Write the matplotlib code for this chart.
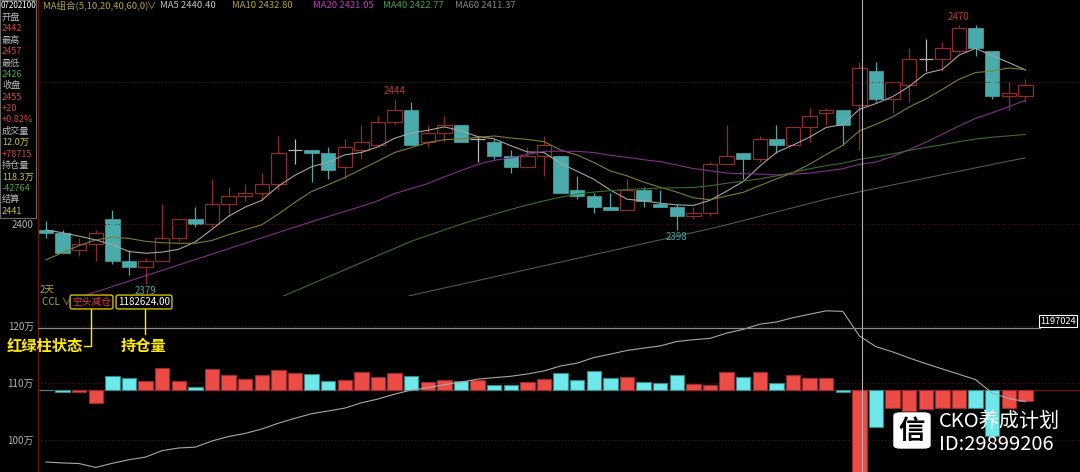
import matplotlib
matplotlib.use("Agg")
import matplotlib.pyplot as plt
import matplotlib.transforms as mtrans
from matplotlib.lines import Line2D
from matplotlib.patches import Rectangle, FancyBboxPatch
import numpy as np
import pandas as pd

plt.rcParams['font.family'] = ['Noto Sans CJK SC', 'DejaVu Sans']

# daily candles, left to right
opens = [2398, 2397, 2391, 2393, 2402, 2387, 2385, 2387, 2395, 2402,
         2400, 2407, 2410, 2411, 2414, 2426, 2426, 2425, 2420, 2426,
         2428, 2436, 2440, 2429, 2432, 2435, 2430, 2429, 2424, 2420,
         2424, 2424, 2412, 2410, 2406, 2405, 2412, 2407, 2406, 2403,
         2404, 2421, 2425, 2423, 2430, 2428, 2434, 2439, 2440, 2442,
         2454, 2444, 2449, 2458, 2458, 2461, 2469, 2461, 2445, 2445]
highs = [2401, 2398, 2395, 2398, 2405, 2391, 2388, 2407, 2402, 2406,
         2416, 2413, 2414, 2418, 2431, 2430, 2426, 2427, 2430, 2435,
         2438, 2444, 2443, 2435, 2438, 2435, 2431, 2430, 2426, 2427,
         2431, 2424, 2417, 2411, 2411, 2416, 2413, 2412, 2407, 2406,
         2422, 2435, 2425, 2431, 2435, 2434, 2441, 2441, 2440, 2457,
         2457, 2450, 2462, 2465, 2464, 2470, 2470, 2461, 2450, 2451]
lows = [2395, 2390, 2389, 2387, 2386, 2382, 2379, 2387, 2394, 2399,
        2399, 2403, 2408, 2408, 2412, 2421, 2415, 2416, 2416, 2423,
        2427, 2435, 2428, 2427, 2429, 2429, 2422, 2423, 2418, 2420,
        2417, 2411, 2409, 2404, 2405, 2405, 2406, 2406, 2398, 2402,
        2403, 2421, 2416, 2422, 2425, 2428, 2429, 2435, 2428, 2426,
        2443, 2439, 2443, 2454, 2454, 2460, 2459, 2444, 2440, 2443]
closes = [2397, 2390, 2393, 2397, 2387, 2385, 2387, 2395, 2402, 2400,
          2407, 2410, 2411, 2414, 2425, 2426, 2425, 2419, 2427, 2429,
          2436, 2440, 2428, 2432, 2435, 2429, 2430, 2424, 2420, 2424,
          2428, 2411, 2410, 2406, 2405, 2412, 2408, 2406, 2403, 2404,
          2421, 2424, 2423, 2430, 2428, 2434, 2438, 2440, 2435, 2455,
          2444, 2450, 2458, 2458, 2462, 2469, 2462, 2445, 2446, 2449]

# open interest (万) and its daily change (contracts)
oi_wan = [96.14, 95.98, 95.87, 95.19, 95.92, 96.55, 97.01, 98.14, 98.60, 98.75,
          99.83, 100.61, 101.16, 101.93, 102.95, 103.81, 104.61, 105.09, 105.60, 106.52,
          107.19, 108.04, 108.76, 109.18, 109.70, 110.17, 110.68, 110.94, 111.18, 111.58,
          112.12, 112.98, 113.49, 114.46, 115.06, 115.71, 116.12, 116.50, 117.28, 117.59,
          117.83, 118.75, 119.40, 120.32, 120.70, 121.46, 122.06, 122.66, 122.57, 118.26,
          116.37, 115.46, 114.39, 113.40, 112.46, 111.53, 110.59, 108.23, 107.29, 106.73]
oi_chg = [0, -1180, -1180, -6810, 7320, 6300, 4610, 11260, 4610, 1540,
          10750, 7830, 5480, 7680, 10240, 8550, 8040, 4760, 5120, 9220,
          6660, 8550, 7170, 4250, 5120, 4760, 5120, 2560, 2410, 3940,
          5480, 8550, 5120, 9730, 5990, 6500, 4100, 3740, 7830, 3070,
          2410, 9220, 6500, 9220, 3740, 7680, 5990, 5990, -870, -42764,
          -18940, -9060, -10750, -9880, -9370, -9370, -9370, -23550, -9370, -5630]

# MA values whose window reaches back before the first candle
ma5_head = [2398.0, 2397.0, 2395.8, 2394.5]
ma10_head = [2387.5, 2390.0, 2392.5, 2394.5, 2395.5, 2395.0, 2394.0, 2393.5, 2393.3]
ma20_head = [2370.5, 2372.4, 2374.3, 2376.2, 2378.1, 2380.0, 2381.9, 2383.8, 2385.7, 2387.6,
             2389.5, 2391.4, 2393.3, 2395.2, 2397.1, 2399.0, 2400.9, 2402.7, 2404.5]
ma40_head = [2345.0, 2347.0, 2349.0, 2351.0, 2353.0, 2355.0, 2357.0, 2359.0, 2361.0, 2363.0,
             2365.0, 2367.5, 2370.0, 2372.5, 2374.0, 2376.5, 2379.0, 2381.5, 2384.0, 2386.5,
             2389.0, 2391.5, 2394.0, 2396.0, 2398.0, 2400.0, 2401.8, 2403.5, 2405.2, 2406.8,
             2408.2, 2409.5, 2410.6, 2411.3, 2411.8, 2412.2, 2412.5, 2412.7, 2412.8]
ma60 = [2346.0, 2347.3, 2348.6, 2349.9, 2351.2, 2352.5, 2353.8, 2355.1, 2356.4, 2357.7,
        2359.0, 2360.3, 2361.6, 2362.9, 2364.2, 2365.5, 2366.8, 2368.1, 2369.4, 2370.7,
        2372.0, 2373.4, 2375.0, 2376.3, 2377.6, 2378.9, 2380.2, 2381.5, 2382.8, 2384.1,
        2385.4, 2386.7, 2388.0, 2389.3, 2390.6, 2391.9, 2393.2, 2394.5, 2395.8, 2397.1,
        2398.4, 2399.8, 2401.3, 2402.8, 2404.3, 2405.8, 2407.3, 2408.8, 2410.1, 2411.37,
        2412.6, 2413.8, 2415.0, 2416.2, 2417.4, 2418.6, 2419.8, 2421.0, 2422.2, 2423.3]

high_marks = [21, 55]
low_marks = [6, 38]
cursor_x = 49.15
cursor_oi = 119.7024

info_rows = [("开盘", "lab"), ("2442", "up"), ("最高", "lab"), ("2457", "up"),
             ("最低", "lab"), ("2426", "dn"), ("收盘", "lab"), ("2455", "up"),
             ("+20", "up"), ("+0.82%", "up"), ("成交量", "lab"), ("12.0万", "ol"),
             ("+78715", "up"), ("持仓量", "lab"), ("118.3万", "ol"), ("-42764", "dn"),
             ("结算", "lab"), ("2441", "ol")]
legend_items = [("MA组合(5,10,20,40,60,0)", 43, '#b4a63a'),
                ("∨", 147, '#b4a63a'),
                ("MA5 2440.40", 160, '#c4c4c4'),
                ("MA10 2432.80", 232, '#b4a63a'),
                ("MA20 2421.05", 313, '#c23cc2'),
                ("MA40 2422.77", 383, '#3ca83c'),
                ("MA60 2411.37", 455, '#858585')]

W, H = 1080, 472
SPLIT = 296
BG = '#000000'
DARKRED = '#6e1414'
GRID = '#5e1212'
RED_K = '#902c2c'
TEAL_K = '#4aabab'
DOJI = '#b4b4b4'
colmap = {"lab": '#b8b8b8', "up": '#d24444', "dn": '#3cb03c', "ol": '#c8c03a'}


def fx(x):
    return x / W


def fy(y):
    return 1 - y / H


fig = plt.figure(figsize=(W / 100, H / 100), dpi=100, facecolor=BG)
ax1 = fig.add_axes([fx(38), fy(SPLIT), 1 - fx(38), SPLIT / H])
ax_bar = fig.add_axes([fx(38), 0, 1 - fx(38), (H - SPLIT) / H])
ax_oi = ax_bar.twinx()

o = np.array(opens, float)
h = np.array(highs, float)
l = np.array(lows, float)
c = np.array(closes, float)
x = np.arange(len(c))
w = 0.87
up = c > o
dn = c < o
fl = c == o

# candles
ax1.vlines(x[up], c[up], h[up], color=RED_K, lw=0.9)
ax1.vlines(x[up], l[up], o[up], color=RED_K, lw=0.9)
ax1.bar(x[up], (c - o)[up], bottom=o[up], width=w, facecolor='none',
        edgecolor=RED_K, linewidth=0.9)
ax1.vlines(x[dn], l[dn], h[dn], color=TEAL_K, lw=0.9)
ax1.bar(x[dn], (o - c)[dn], bottom=c[dn], width=w, color=TEAL_K,
        edgecolor=TEAL_K, linewidth=0.5)
ax1.vlines(x[fl], l[fl], h[fl], color=DOJI, lw=0.9)
ax1.hlines(o[fl], x[fl] - w / 2, x[fl] + w / 2, color=DOJI, lw=0.9)

# moving averages
cl = pd.Series(c)


def ma_line(n, head):
    m = cl.rolling(n).mean().to_numpy()
    m[:len(head)] = head
    return m


ax1.plot(x, ma_line(5, ma5_head), color='#a4a4a4', lw=0.8, zorder=3)
ax1.plot(x, ma_line(10, ma10_head), color='#807c30', lw=0.8, zorder=3)
ax1.plot(x, ma_line(20, ma20_head), color='#82308a', lw=0.8, zorder=3)
ax1.plot(x, ma_line(40, ma40_head), color='#3c6e2a', lw=0.8, zorder=3)
ax1.plot(x, ma60, color='#555555', lw=0.8, zorder=3)

for i in high_marks:
    ax1.annotate(f"{highs[i]}", (x[i], h[i]), xytext=(0, 2), textcoords='offset points',
                 ha='center', va='bottom', color='#b83a3a', fontsize=7)
for i in low_marks:
    ax1.annotate(f"{lows[i]}", (x[i], l[i]), xytext=(0, -1.5), textcoords='offset points',
                 ha='center', va='top', color='#45a8a8', fontsize=7)

ax1.set_xlim(-0.48, 62.29)
ax1.set_ylim(2374.78, 2478.78)
# the 2450 label sits under the info box, so only the grid line shows
ax1.set_yticks([2400, 2450], labels=['2400', ''])
ax1.yaxis.grid(True, color=GRID, lw=0.8, ls=(0, (1, 2)))
ax1.axvline(cursor_x, color='#b0b0b0', lw=0.8, zorder=5)

# lower panel: open interest change bars + open interest line
bar_red = c >= o
ax_bar.axhline(0, color=DARKRED, lw=1, zorder=0.6)
ax_bar.bar(x, oi_chg, width=w,
           color=np.where(bar_red, '#ec4c46', '#6ee8ea'),
           edgecolor=np.where(bar_red, '#9c2a2a', '#2f8a8a'), linewidth=0.8, zorder=2)
blend = mtrans.blended_transform_factory(ax_bar.transAxes, ax_oi.transData)
for v in [100, 110, 120]:
    ax_bar.add_line(Line2D([0, 1], [v, v], transform=blend, color=GRID, lw=0.8,
                           ls=(0, (1, 2)), zorder=0.5))
ax_bar.set_xlim(-0.48, 62.29)
ax_bar.set_ylim(-41984, 48128)
ax_bar.set_yticks([])

ax_oi.plot(x, oi_wan, color='#a8a8a8', lw=0.8)
ax_oi.set_ylim(94.39, 125.26)
ax_oi.yaxis.tick_left()
ax_oi.set_yticks([100, 110, 120], labels=['100万', '110万', '120万'])
ax_oi.axvline(cursor_x, color='#b0b0b0', lw=0.8)
ax_oi.axhline(cursor_oi, xmax=0.9616, color='#8c8c8c', lw=0.9)

for ax in (ax1, ax_bar, ax_oi):
    ax.set_facecolor(BG)
    for s in ax.spines.values():
        s.set_visible(False)
    ax.set_xticks([])
    ax.tick_params(axis='y', length=0, pad=3, colors='#b0b0b0', labelsize=7)
ax_oi.patch.set_visible(False)
for ax in (ax1, ax_bar):
    ax.spines['left'].set_visible(True)
    ax.spines['left'].set_color(DARKRED)
ax1.spines['bottom'].set_visible(True)
ax1.spines['bottom'].set_color(DARKRED)

# info box at top-left
fig.add_artist(Rectangle((0, fy(218)), fx(36), 218 / H, transform=fig.transFigure,
                         facecolor=BG, edgecolor='#6a6a6a', lw=0.8, zorder=2))
fig.text(fx(1), fy(6), "07202100", color='white', fontsize=5.8, va='center')
for k, (txt, kind) in enumerate(info_rows):
    fig.text(fx(2), fy(17.4 + 11.4 * k), txt, color=colmap[kind], fontsize=6.6, va='center')

for txt, px, col in legend_items:
    fig.text(fx(px), fy(6), txt, color=col, fontsize=6.8, va='center')

fig.text(fx(40), fy(290), "2天", color='#b4a63a', fontsize=7, va='center')

# lower panel header
fig.text(fx(42), fy(302), "CCL ∨", color='#b4a63a', fontsize=7, va='center')
fig.text(fx(91.5), fy(302), "空头减仓", color='#e04040', fontsize=7, va='center', ha='center',
         bbox=dict(boxstyle='round,pad=0.2', fc=BG, ec='#d2c000', lw=1))
fig.text(fx(144), fy(302), "1182624.00", color='white', fontsize=7, va='center', ha='center',
         bbox=dict(boxstyle='round,pad=0.2', fc=BG, ec='#d2c000', lw=1))

# yellow call-outs
YEL = '#ffec00'
fig.text(fx(7), fy(346), "红绿柱状态", color=YEL, fontsize=11, fontweight='bold', va='center')
fig.text(fx(121), fy(346), "持仓量", color=YEL, fontsize=11, fontweight='bold', va='center')
fig.add_artist(Line2D([fx(84), fx(91), fx(91)], [fy(346), fy(346), fy(308)],
                      transform=fig.transFigure, color=YEL, lw=1))
fig.add_artist(Line2D([fx(145), fx(145)], [fy(334), fy(308)],
                      transform=fig.transFigure, color=YEL, lw=1))

# cursor value on the right
fig.text(fx(1058), fy(321), "1197024", color='white', fontsize=6.6, va='center', ha='center',
         bbox=dict(boxstyle='square,pad=0.12', fc=BG, ec='white', lw=0.8))

# watermark
fig.add_artist(FancyBboxPatch((fx(894), fy(448)), fx(36), 35 / H,
                              boxstyle='round,pad=0,rounding_size=0.006',
                              transform=fig.transFigure, fc='white', ec='white', zorder=4))
fig.text(fx(912), fy(431), "信", color='black', fontsize=19, fontweight='bold',
         ha='center', va='center', zorder=5)
fig.text(fx(939), fy(421), "CKO养成计划", color='white', fontsize=14.5, va='center', zorder=5)
fig.text(fx(939), fy(444), "ID:29899206", color='white', fontsize=14.5, va='center', zorder=5)

fig.savefig("out.png", dpi=100, facecolor=BG)
